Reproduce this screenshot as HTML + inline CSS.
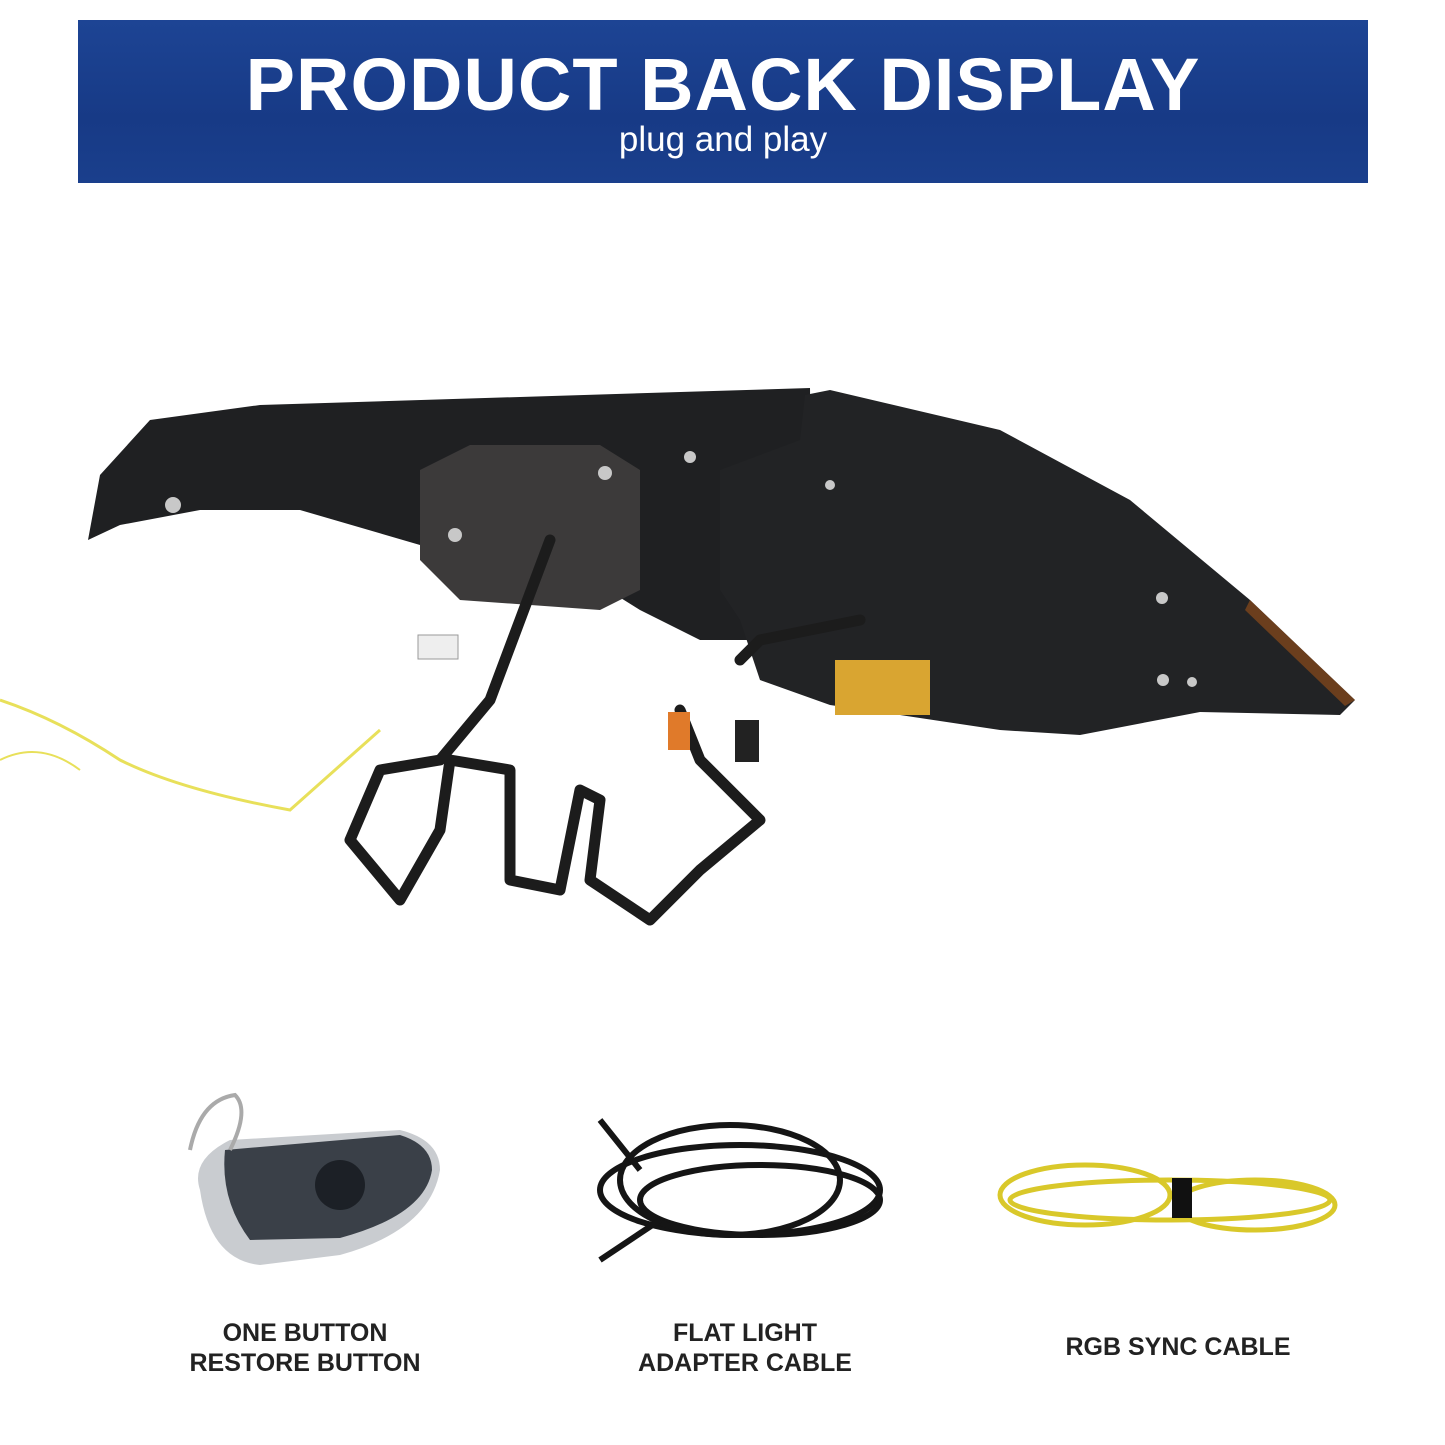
<!DOCTYPE html>
<html><head><meta charset="utf-8"><style>
html,body{margin:0;padding:0;background:#fff;}
body{width:1445px;height:1445px;position:relative;overflow:hidden;font-family:"Liberation Sans",sans-serif;}
.hdr{position:absolute;left:78px;top:20px;width:1290px;height:163px;background:linear-gradient(180deg,#1d4494,#173a86 60%,#1a3f8c);}
.t1{position:absolute;left:0;width:100%;top:28px;text-align:center;color:#fff;font-weight:900;font-size:74px;letter-spacing:1px;line-height:74px;}
.t2{position:absolute;left:0;width:100%;top:101px;text-align:center;color:#fff;font-size:35px;line-height:38px;}
.lbl{position:absolute;text-align:center;font-weight:bold;font-size:25px;line-height:30px;color:#222;width:360px;}
</style></head><body>
<div class="hdr"><div class="t1">PRODUCT BACK DISPLAY</div><div class="t2">plug and play</div></div>
<svg width="1445" height="1445" style="position:absolute;left:0;top:0">
<path d="M88,540 L100,475 L150,420 L260,405 L810,388 L812,560 L760,640 L700,640 L640,610 L560,560 L500,545 L420,545 L300,510 L200,510 L120,525 Z" fill="#1f2022"/>
<path d="M420,470 L470,445 L600,445 L640,470 L640,590 L600,610 L460,600 L420,560 Z" fill="#3c3a3a"/>
<path d="M805,395 L830,390 L1000,430 L1130,500 L1250,600 L1355,700 L1340,715 L1200,712 L1080,735 L1000,730 L900,715 L830,705 L760,680 L740,620 L720,590 L720,470 L800,440 Z" fill="#222325"/>
<path d="M1250,600 L1355,700 L1345,706 L1245,610 Z" fill="#8a4a1a" opacity=".7"/>
<rect x="835" y="660" width="95" height="55" fill="#d9a531"/>
<g fill="#c8c8c8"><circle cx="605" cy="473" r="7"/><circle cx="455" cy="535" r="7"/><circle cx="173" cy="505" r="8"/><circle cx="690" cy="457" r="6"/><circle cx="1162" cy="598" r="6"/><circle cx="1163" cy="680" r="6"/><circle cx="1192" cy="682" r="5"/><circle cx="830" cy="485" r="5"/></g>
<g fill="none" stroke="#1c1c1c" stroke-width="11" stroke-linecap="round" stroke-linejoin="round">
<path d="M550,540 L520,620 L490,700 L440,760 L380,770 L350,840 L400,900 L440,830 L450,760 L510,770 L510,880 L560,890 L580,790 L600,800 L590,880 L650,920 L700,870 L760,820 L700,760 L680,710"/>
<path d="M740,660 L760,640 L860,620"/>
</g>
<path d="M0,700 Q60,720 120,760 Q180,790 290,810 L380,730" fill="none" stroke="#e8e05a" stroke-width="3"/>
<path d="M0,760 Q40,740 80,770" fill="none" stroke="#e8e05a" stroke-width="2"/>
<rect x="668" y="712" width="22" height="38" fill="#e07a2a"/>
<rect x="735" y="720" width="24" height="42" fill="#222"/>
<rect x="418" y="635" width="40" height="24" fill="#eee" stroke="#999"/>
<path d="M200,1190 Q190,1160 230,1140 L400,1130 Q440,1140 440,1170 Q430,1230 340,1255 L260,1265 Q210,1260 200,1190 Z" fill="#c9ccd0"/>
<path d="M225,1150 L400,1135 Q432,1145 432,1170 Q425,1215 340,1238 L250,1240 Q220,1200 225,1150 Z" fill="#3a4048"/>
<circle cx="340" cy="1185" r="25" fill="#1c2026"/>
<path d="M190,1150 Q200,1100 235,1095 Q250,1110 230,1150" fill="none" stroke="#aaa" stroke-width="4"/>
<g fill="none" stroke="#151515" stroke-width="6">
<ellipse cx="740" cy="1190" rx="140" ry="45"/><ellipse cx="760" cy="1200" rx="120" ry="35"/><ellipse cx="730" cy="1180" rx="110" ry="55"/><path d="M600,1120 L640,1170 M600,1260 L660,1220"/>
</g>
<g fill="none" stroke="#d9c82a" stroke-width="5">
<ellipse cx="1085" cy="1195" rx="85" ry="30"/><ellipse cx="1255" cy="1205" rx="80" ry="25"/><ellipse cx="1170" cy="1200" rx="160" ry="20"/>
</g>
<rect x="1172" y="1178" width="20" height="40" fill="#111"/>
</svg>
<div class="lbl" style="left:125px;top:1318px">ONE BUTTON<br>RESTORE BUTTON</div>
<div class="lbl" style="left:565px;top:1318px">FLAT LIGHT<br>ADAPTER CABLE</div>
<div class="lbl" style="left:998px;top:1332px">RGB SYNC CABLE</div>
</body></html>
